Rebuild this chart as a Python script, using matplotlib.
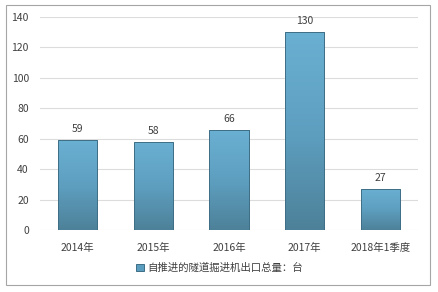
import matplotlib
matplotlib.use("Agg")
import matplotlib.pyplot as plt
import numpy as np
from matplotlib.patches import Rectangle
from matplotlib.colors import LinearSegmentedColormap

plt.rcParams['font.family'] = ['Noto Sans CJK SC', 'DejaVu Sans']

categories = ["2014年", "2015年", "2016年", "2017年", "2018年1季度"]
values = [59, 58, 66, 130, 27]
series_name = "自推进的隧道掘进机出口总量：台"
yticks = [0, 20, 40, 60, 80, 100, 120, 140]

W, H = 439, 292
fig = plt.figure(figsize=(W / 100, H / 100), dpi=100)
fig.patch.set_facecolor("white")

# outer border
fig.add_artist(Rectangle((6 / W, 1 - 285 / H), 424 / W, 280 / H, transform=fig.transFigure,
                         fill=False, edgecolor="#a6a6a6", linewidth=0.8))

ax = fig.add_axes([40 / W, 1 - 230 / H, 378 / W, 213 / H])
x = np.arange(len(categories))
bw = 0.52
bars = ax.bar(x, values, width=bw, color="#5b9dbf", edgecolor="#3e6f86", linewidth=0.7, zorder=2)

cmap = LinearSegmentedColormap.from_list("g", ["#4d8199", "#5e9fc0", "#6ab0d2"])
grad = np.linspace(0, 1, 256).reshape(-1, 1)
for b in bars:
    x0, w, h = b.get_x(), b.get_width(), b.get_height()
    im = ax.imshow(grad, cmap=cmap, aspect="auto", origin="lower",
                   extent=(x0, x0 + w, 0, h), zorder=2.5)
    im.set_clip_path(b)
    ax.add_patch(Rectangle((x0, 0), w, h, fill=False, edgecolor="#3e6f86", linewidth=0.7, zorder=3))

for xi, v in zip(x, values):
    ax.text(xi, v + 4, str(v), ha="center", va="bottom", fontsize=7.5, color="#404040", zorder=4)

ax.set_xlim(-0.5, len(categories) - 0.5)
ax.set_ylim(0, 140)
ax.set_yticks(yticks)
ax.set_xticks(x)
ax.set_xticklabels(categories)
ax.tick_params(axis="both", length=0, labelsize=7.5, colors="#404040")
ax.tick_params(axis="x", pad=9)
ax.tick_params(axis="y", pad=8)
ax.grid(axis="y", color="#dcdcdc", linewidth=0.8, zorder=0)
ax.set_axisbelow(True)
for s in ax.spines.values():
    s.set_visible(False)

handle = Rectangle((0, 0), 1, 1, facecolor="#5b9dbf", edgecolor="#3e6f86", linewidth=0.7)
fig.legend([handle], [series_name], loc="center", bbox_to_anchor=(0.5, 1 - 268 / H),
           frameon=False, fontsize=7.5, handlelength=0.7, handleheight=0.7, handletextpad=0.3,
           labelcolor="#404040")

fig.savefig("out.png", dpi=100, facecolor="white")
